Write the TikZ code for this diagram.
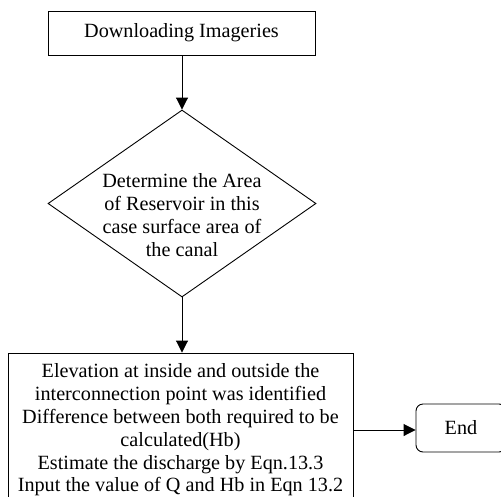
\documentclass[tikz,border=0pt]{standalone}
\usepackage{fontspec}
\setmainfont{Liberation Serif}
\usetikzlibrary{shapes.geometric,arrows.meta}
\begin{document}
\begin{tikzpicture}[x=1pt,y=-1pt,
  txt/.style={font=\fontsize{20.2}{22.8}\selectfont,align=center},
  boxnode/.style={draw,line width=0.9pt,txt,inner sep=0pt},
  conn/.style={line width=0.9pt,-{Triangle[length=12pt,width=12pt]}}]
\clip (0,0) rectangle (501,496);
\useasboundingbox (0,0) rectangle (501,496);
\node[boxnode,minimum width=267pt,minimum height=44pt] (dl) at (181.5,33) {Downloading Imageries};
\node[draw,diamond,line width=0.9pt,minimum width=268pt,minimum height=187pt,inner sep=0pt] (dec) at (182,203.5) {};
\node[txt] (dectext) at (182,215) {Determine the Area\\of Reservoir in this\\case surface area of\\the canal};
\node[boxnode,minimum width=345pt,minimum height=154pt] (elev) at (180.5,430)
  {Elevation at inside and outside the\\interconnection point was identified\\Difference between both required to be\\calculated(Hb)\\Estimate the discharge by Eqn.13.3\\Input the value of Q and Hb in Eqn 13.2};
\node[boxnode,rounded corners=7pt,minimum width=90pt,minimum height=48pt] (end) at (461,428) {End};
\draw[conn] (dl.south -| dec.north) -- (dec.north);
\draw[conn] (dec.south) -- (dec.south |- elev.north);
\draw[conn] (elev.east |- 0,430) -- (end.west |- 0,430);
\end{tikzpicture}
\end{document}
